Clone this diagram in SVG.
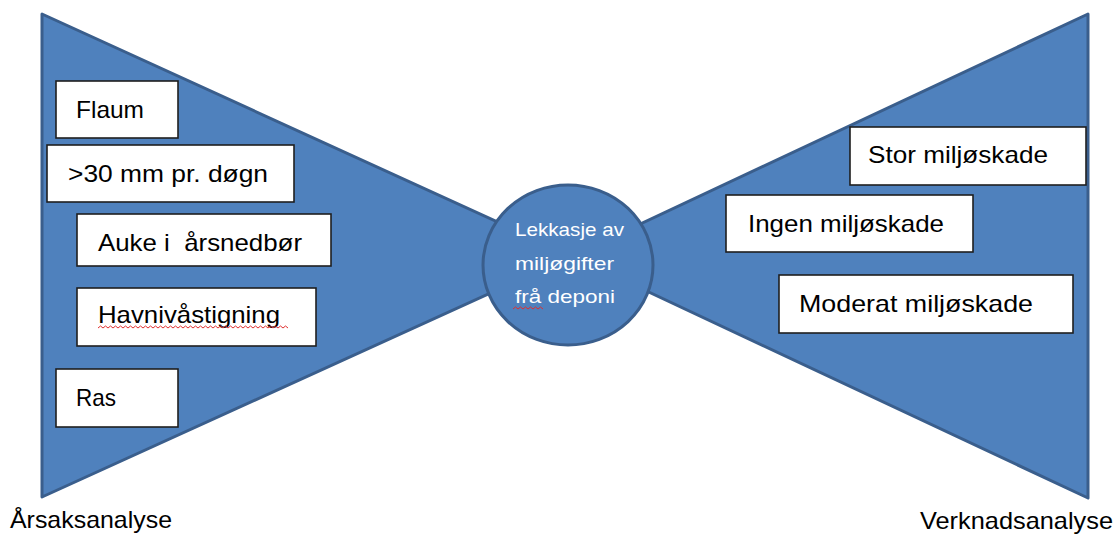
<svg xmlns="http://www.w3.org/2000/svg" width="1116" height="535" viewBox="0 0 1116 535">
<style>
.tri{fill:#4F81BD;stroke:#3A5E8C;stroke-width:3;stroke-linejoin:round}
.box{fill:#FFFFFF;stroke:#1E1E1E;stroke-width:1.6}
.t{font-family:"Liberation Sans",Arial,sans-serif;font-size:24px;fill:#000000}
.c{font-family:"Liberation Sans",Arial,sans-serif;font-size:19px;fill:#FFFFFF}
.sq{fill:none;stroke:#E03030;stroke-width:1}
</style>
<rect width="1116" height="535" fill="#FFFFFF"/>
<g id="shapes">
<polygon id="left-triangle" class="tri" points="42,14 572,256 42,497"/>
<polygon id="right-triangle" class="tri" points="1088,14 572,256 1088,498"/>
</g>
<g id="connectors"></g>
<g id="center">
<ellipse class="tri" cx="568" cy="265" rx="85" ry="80"/>
<text class="c" x="515" y="236" textLength="109" lengthAdjust="spacingAndGlyphs">Lekkasje av</text>
<text class="c" x="515" y="270" textLength="99" lengthAdjust="spacingAndGlyphs">miljøgifter</text>
<text class="c" x="515" y="303" textLength="100" lengthAdjust="spacingAndGlyphs">frå deponi</text>
<path class="sq" d="M513,309 l2.5,-2 l2.5,2 l2.5,-2 l2.5,2 l2.5,-2 l2.5,2 l2.5,-2 l2.5,2 l2.5,-2 l2.5,2 l2.5,-2 l2.5,2"/>
</g>
<g id="n-flaum">
<rect class="box" x="56" y="81" width="122" height="57"/>
<text class="t" x="76" y="118" textLength="68" lengthAdjust="spacingAndGlyphs">Flaum</text>
</g>
<g id="n-30mm">
<rect class="box" x="47" y="145" width="247" height="57"/>
<text class="t" x="68" y="182" textLength="200" lengthAdjust="spacingAndGlyphs">&gt;30 mm pr. døgn</text>
</g>
<g id="n-auke">
<rect class="box" x="77" y="214" width="254" height="52"/>
<text class="t" x="98" y="251" textLength="204" lengthAdjust="spacingAndGlyphs">Auke i&#160; årsnedbør</text>
</g>
<g id="n-havniva">
<rect class="box" x="77" y="288" width="239" height="58"/>
<text class="t" x="98" y="323" textLength="182" lengthAdjust="spacingAndGlyphs">Havnivåstigning</text>
<path class="sq" d="M98,328 l2.5,-2 l2.5,2 l2.5,-2 l2.5,2 l2.5,-2 l2.5,2 l2.5,-2 l2.5,2 l2.5,-2 l2.5,2 l2.5,-2 l2.5,2 l2.5,-2 l2.5,2 l2.5,-2 l2.5,2 l2.5,-2 l2.5,2 l2.5,-2 l2.5,2 l2.5,-2 l2.5,2 l2.5,-2 l2.5,2 l2.5,-2 l2.5,2 l2.5,-2 l2.5,2 l2.5,-2 l2.5,2 l2.5,-2 l2.5,2 l2.5,-2 l2.5,2 l2.5,-2 l2.5,2 l2.5,-2 l2.5,2 l2.5,-2 l2.5,2 l2.5,-2 l2.5,2 l2.5,-2 l2.5,2 l2.5,-2 l2.5,2 l2.5,-2 l2.5,2 l2.5,-2 l2.5,2 l2.5,-2 l2.5,2 l2.5,-2 l2.5,2 l2.5,-2 l2.5,2 l2.5,-2 l2.5,2 l2.5,-2 l2.5,2 l2.5,-2 l2.5,2 l2.5,-2 l2.5,2 l2.5,-2 l2.5,2 l2.5,-2 l2.5,2 l2.5,-2 l2.5,2 l2.5,-2 l2.5,2 l2.5,-2 l2.5,2 l2.5,-2 l2.5,2"/>
</g>
<g id="n-ras">
<rect class="box" x="56" y="369" width="122" height="58"/>
<text class="t" x="76" y="406" textLength="40" lengthAdjust="spacingAndGlyphs">Ras</text>
</g>
<g id="n-stor">
<rect class="box" x="850" y="127" width="236" height="58"/>
<text class="t" x="868" y="163" textLength="180" lengthAdjust="spacingAndGlyphs">Stor miljøskade</text>
</g>
<g id="n-ingen">
<rect class="box" x="726" y="195" width="247" height="57"/>
<text class="t" x="748" y="232" textLength="196" lengthAdjust="spacingAndGlyphs">Ingen miljøskade</text>
</g>
<g id="n-moderat">
<rect class="box" x="779" y="275" width="294" height="58"/>
<text class="t" x="799" y="312" textLength="234" lengthAdjust="spacingAndGlyphs">Moderat miljøskade</text>
</g>
<g id="labels">
<text class="t" x="10" y="528" textLength="162" lengthAdjust="spacingAndGlyphs">Årsaksanalyse</text>
<text class="t" x="920" y="529" textLength="193" lengthAdjust="spacingAndGlyphs">Verknadsanalyse</text>
</g>
</svg>
